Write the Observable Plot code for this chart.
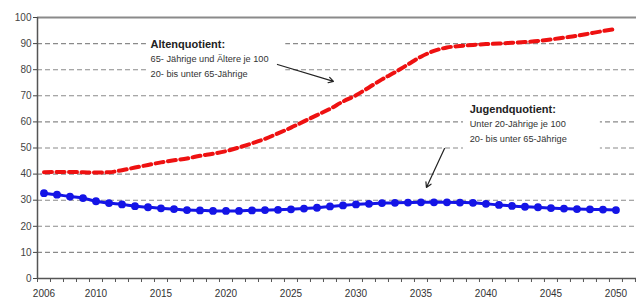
<!DOCTYPE html>
<html><head><meta charset="utf-8">
<script src="https://cdn.jsdelivr.net/npm/d3@7"></script>
<script src="https://cdn.jsdelivr.net/npm/@observablehq/plot@0.6"></script>
<style>body{margin:0;background:#fff}</style>
</head><body><div id="chart"></div>
<script>
const years = [2006,2007,2008,2009,2010,2011,2012,2013,2014,2015,2016,2017,2018,2019,2020,2021,2022,2023,2024,2025,2026,2027,2028,2029,2030,2031,2032,2033,2034,2035,2036,2037,2038,2039,2040,2041,2042,2043,2044,2045,2046,2047,2048,2049,2050];
const altenquotient = [40.7,40.8,40.8,40.7,40.6,40.7,41.5,42.5,43.5,44.5,45.3,46.0,47.0,47.8,48.8,50.2,51.8,53.5,55.6,57.8,60.2,62.6,65.0,67.8,70.2,73.2,76.3,79.0,82.0,85.0,87.2,88.5,89.1,89.5,89.8,90.0,90.3,90.6,91.0,91.6,92.3,93.0,93.9,94.8,95.6];
const jugendquotient = [32.7,32.1,31.4,30.8,29.6,28.9,28.4,27.7,27.3,26.9,26.6,26.2,26.1,25.9,25.9,25.9,26.1,26.2,26.3,26.5,26.8,27.1,27.6,28.0,28.4,28.6,28.9,29.0,29.1,29.2,29.2,29.2,29.1,29.0,28.6,28.2,27.8,27.5,27.3,27.0,26.8,26.6,26.5,26.4,26.2];
const yTicks = [0,10,20,30,40,50,60,70,80,90,100];
const gridValues = [10,20,30,40,50,60,70,80,90];
const xLabels = [2006,2010,2015,2020,2025,2030,2035,2040,2045,2050];
const categoryEdges = [2005.5,2006.5,2007.5,2008.5,2009.5,2010.5,2011.5,2012.5,2013.5,2014.5,2015.5,2016.5,2017.5,2018.5,2019.5,2020.5,2021.5,2022.5,2023.5,2024.5,2025.5,2026.5,2027.5,2028.5,2029.5,2030.5,2031.5,2032.5,2033.5,2034.5,2035.5,2036.5,2037.5,2038.5,2039.5,2040.5,2041.5,2042.5,2043.5,2044.5,2045.5,2046.5,2047.5,2048.5,2049.5,2050.5,2051.5];

// annotation texts (anchored in data coordinates)
const altenTitle = "Altenquotient:";
const altenLines = ["65- Jährige und Ältere je 100", "20- bis unter 65-Jährige"];
const jugendTitle = "Jugendquotient:";
const jugendLines = ["Unter 20-Jährige je 100", "20- bis unter 65-Jährige"];
const altenTextPos = {x: 2014.2, y: [89.7, 83.9, 78.2]};
const jugendTextPos = {x: 2038.75, y: [64.8, 59.0, 53.3]};
const labelBoxes = [
  {x1: 2013.88, x2: 2024.6, y1: 75.9, y2: 93.5},
  {x1: 2038.27, x2: 2048.8, y1: 49.0, y2: 68.2}
];
const arrows = [
  {x1: 2023.96, y1: 82.0, x2: 2028.27, y2: 75.5},
  {x1: 2036.81, y1: 49.8, x2: 2035.42, y2: 34.9}
];

const alten = years.map((y,i)=>({year:y, v:altenquotient[i]}));
const jugend = years.map((y,i)=>({year:y, v:jugendquotient[i]}));

const titleRows = [
  {x: altenTextPos.x, y: altenTextPos.y[0], t: altenTitle},
  {x: jugendTextPos.x, y: jugendTextPos.y[0], t: jugendTitle}
];
const bodyRows = [
  {x: altenTextPos.x, y: altenTextPos.y[1], t: altenLines[0]},
  {x: altenTextPos.x, y: altenTextPos.y[2], t: altenLines[1]},
  {x: jugendTextPos.x, y: jugendTextPos.y[1], t: jugendLines[0]},
  {x: jugendTextPos.x, y: jugendTextPos.y[2], t: jugendLines[1]}
];

const chart = Plot.plot({
  width: 636, height: 304,
  marginLeft: 37, marginRight: 0, marginTop: 17, marginBottom: 26,
  style: {fontFamily: "'Liberation Sans', Arial, sans-serif", background: "#fff"},
  x: {domain: [2005.5, 2051.58], axis: null},
  y: {domain: [0, 100], axis: null},
  marks: [
    Plot.ruleY(gridValues, {stroke: "#8a8a8a", strokeWidth: 1.1, strokeDasharray: "5,3"}),
    Plot.ruleY([100], {stroke: "#8a8a8a", strokeWidth: 2}),
    Plot.rect(labelBoxes, {x1: "x1", x2: "x2", y1: "y1", y2: "y2", fill: "#fff"}),
    Plot.ruleY([0], {stroke: "#555", strokeWidth: 1.5}),
    Plot.ruleX([2005.5], {stroke: "#555", strokeWidth: 1.5}),
    Plot.axisY(yTicks, {tickSize: 4, tickPadding: 2, fontSize: 10, color: "#444", tickFormat: d => String(d)}),
    Plot.axisX(categoryEdges, {tickSize: 4, color: "#555", tickFormat: () => ""}),
    Plot.axisX(xLabels, {tickSize: 0, tickPadding: 11, fontSize: 10, color: "#333", tickFormat: d => String(d)}),
    Plot.line(alten, {x: "year", y: "v", stroke: "#ee1111", strokeWidth: 4, strokeDasharray: "8,4.5", curve: "monotone-x"}),
    Plot.line(jugend, {x: "year", y: "v", stroke: "#1414e6", strokeWidth: 3, curve: "monotone-x"}),
    Plot.dot(jugend, {x: "year", y: "v", r: 3.9, fill: "#1414e6"}),
    Plot.arrow(arrows, {x1: "x1", y1: "y1", x2: "x2", y2: "y2", stroke: "#222", strokeWidth: 1.2, headLength: 7}),
    Plot.text(titleRows, {x: "x", y: "y", text: "t", textAnchor: "start", fontWeight: "bold", fontSize: 11, fill: "#222"}),
    Plot.text(bodyRows, {x: "x", y: "y", text: "t", textAnchor: "start", fontSize: 9.2, fill: "#333"})
  ]
});
document.getElementById("chart").appendChild(chart);
</script>
</body></html>
